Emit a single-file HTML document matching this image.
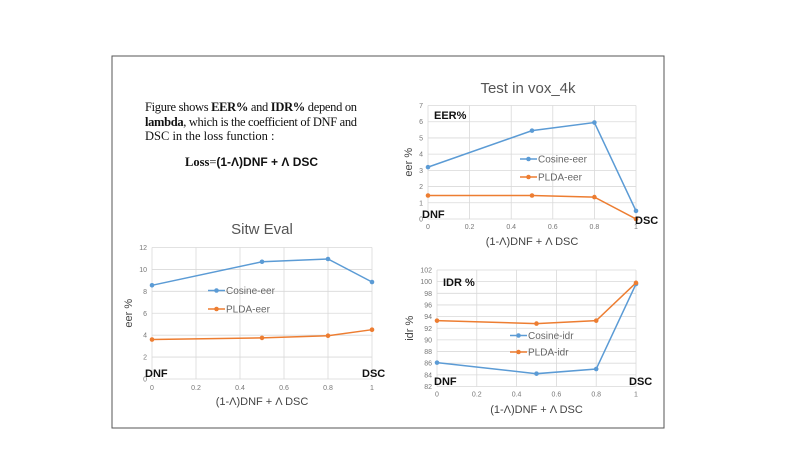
<!DOCTYPE html>
<html><head><meta charset="utf-8"><style>
html,body{margin:0;padding:0;background:#fff;}
svg{display:block;}
.t{font-family:"Liberation Serif",serif;font-size:12.5px;fill:#111;}
.s{font-family:"Liberation Sans",sans-serif;}
.tick{font-family:"Liberation Sans",sans-serif;font-size:7px;fill:#777;}
.grid{stroke:#d9d9d9;stroke-width:0.8;}
.lab{font-family:"Liberation Sans",sans-serif;font-size:11px;fill:#444;}
.leg{font-family:"Liberation Sans",sans-serif;font-size:10px;fill:#666;}
.big{font-family:"Liberation Sans",sans-serif;font-size:11px;font-weight:bold;fill:#111;}
</style></head><body>
<svg id="svg" width="800" height="450" xmlns="http://www.w3.org/2000/svg">
<rect x="112" y="56" width="552" height="372" fill="none" stroke="#555" stroke-width="1"/>
<g>
<text class="t" x="145" y="111" textLength="212">Figure shows <tspan font-weight="bold">EER%</tspan> and <tspan font-weight="bold">IDR%</tspan> depend on</text>
<text class="t" x="145" y="126" textLength="212"><tspan font-weight="bold">lambda</tspan>, which is the coefficient of DNF and</text>
<text class="t" x="145" y="140">DSC in the loss function :</text>
<text x="185" y="166" font-size="12.5" fill="#111"><tspan class="t" font-weight="bold">Loss</tspan><tspan class="t">=</tspan><tspan class="s" font-weight="bold" font-size="12">(1-Λ)DNF + Λ DSC</tspan></text>
</g>
<g id="charts"></g>
</svg>
<script>
const xCats=[0,0.5,0.8,1];
const xTicks=[0,0.2,0.4,0.6,0.8,1];
const voxCosine=[3.2,5.45,5.95,0.5];
const voxPlda=[1.45,1.45,1.35,0.0];
const voxTicks=[0,1,2,3,4,5,6,7];
const sitwCosine=[8.55,10.7,10.95,8.85];
const sitwPlda=[3.6,3.75,3.95,4.5];
const sitwTicks=[0,2,4,6,8,10,12];
const idrCosine=[86.1,84.2,85.0,99.6];
const idrPlda=[93.3,92.8,93.3,99.8];
const idrTicks=[82,84,86,88,90,92,94,96,98,100,102];

const NS='http://www.w3.org/2000/svg';
const root=document.getElementById('charts');
function mk(tag,attrs,parent,txt){const e=document.createElementNS(NS,tag);for(const k in attrs)e.setAttribute(k,attrs[k]);if(txt!==undefined)e.textContent=txt;parent.appendChild(e);return e;}

function chart(cfg){
  const g=mk('g',{},root);
  
  
  const ymin=cfg.ticks[0],ymax=cfg.ticks[cfg.ticks.length-1];
  const X=v=>cfg.x0+(cfg.x1-cfg.x0)*v;
  const Y=v=>cfg.y0+(cfg.y1-cfg.y0)*(v-ymin)/(ymax-ymin);
  cfg.ticks.forEach(t=>{
    const l=mk('line',{x1:X(0),x2:X(1),y1:Y(t),y2:Y(t),class:'grid'},g);
    
    
    const tx=mk('text',{x:X(0)-5,y:Y(t)+2.5,class:'tick','text-anchor':'end'},g,t);
    
    
  });
  xTicks.forEach(t=>{
    const l=mk('line',{x1:X(t),x2:X(t),y1:Y(ymin),y2:Y(ymax),class:'grid'},g);
    
    
    const tx=mk('text',{x:X(t),y:Y(ymin)+cfg.tickGap,class:'tick','text-anchor':'middle'},g,t);
    
    
  });
  const series=[[cfg.s1,'#5b9bd5',cfg.l1],[cfg.s2,'#ed7d31',cfg.l2]];
  series.forEach(([vals,col,lab],i)=>{
    const pts=vals.map((v,j)=>X(xCats[j])+','+Y(v)).join(' ');
    const pl=mk('polyline',{points:pts,fill:'none',stroke:col,'stroke-width':1.5},g);
    
    
    vals.forEach((v,j)=>{
      const c=mk('circle',{cx:X(xCats[j]),cy:Y(v),r:2.3,fill:col},g);
      
      
    });
    const ly=cfg.legY[i];
    const lg=mk('g',{},g);
    
    
    mk('line',{x1:cfg.legX,x2:cfg.legX+17,y1:ly,y2:ly,stroke:col,'stroke-width':1.5},lg);
    mk('circle',{cx:cfg.legX+8.5,cy:ly,r:2.3,fill:col},lg);
    mk('text',{x:cfg.legX+18,y:ly+3.5,class:'leg'},lg,lab);
  });
  const ti=mk('text',{x:cfg.titleX,y:cfg.titleY,'text-anchor':'middle',class:'s','font-size':cfg.titleSize,fill:'#555'},g,cfg.title);
  
  
  const xl=mk('text',{x:(cfg.x0+cfg.x1)/2,y:cfg.xlabY,'text-anchor':'middle',class:'lab'},g,'(1-Λ)DNF + Λ DSC');
  
  
  const yc=(cfg.y0+cfg.y1)/2;
  const yl=mk('text',{x:cfg.ylabX,y:yc,'text-anchor':'middle',class:'lab',transform:'rotate(-90 '+cfg.ylabX+' '+yc+')'},g,cfg.ylab);
  
  
  cfg.notes.forEach(n=>{
    const t=mk('text',{x:n[0],y:n[1],class:'big'},g,n[2]);
    
    
  });
}

chart({name:'vox-eer-chart',x0:428,x1:636,y0:219,y1:105.5,ticks:voxTicks,s1:voxCosine,s2:voxPlda,l1:'Cosine-eer',l2:'PLDA-eer',
  legX:520,legY:[159,177],title:'Test in vox_4k',titleX:528,titleY:93,titleSize:15,xlabY:245,ylabX:412,ylab:'eer %',tickGap:10,
  notes:[[434,119,'EER%'],[422,218,'DNF'],[635,224,'DSC']]});
chart({name:'sitw-eer-chart',x0:152,x1:372,y0:379,y1:247.5,ticks:sitwTicks,s1:sitwCosine,s2:sitwPlda,l1:'Cosine-eer',l2:'PLDA-eer',
  legX:208,legY:[290.5,309],title:'Sitw Eval',titleX:262,titleY:234,titleSize:15,xlabY:405,ylabX:132,ylab:'eer %',tickGap:11,
  notes:[[145,377,'DNF'],[362,377,'DSC']]});
chart({name:'idr-chart',x0:437,x1:636,y0:386.5,y1:270,ticks:idrTicks,s1:idrCosine,s2:idrPlda,l1:'Cosine-idr',l2:'PLDA-idr',
  legX:510,legY:[335.5,352],title:'',titleX:0,titleY:0,titleSize:1,xlabY:413,ylabX:413,ylab:'idr %',tickGap:10,
  notes:[[443,286,'IDR %'],[434,385,'DNF'],[629,385,'DSC']]});
</script>
</body></html>
